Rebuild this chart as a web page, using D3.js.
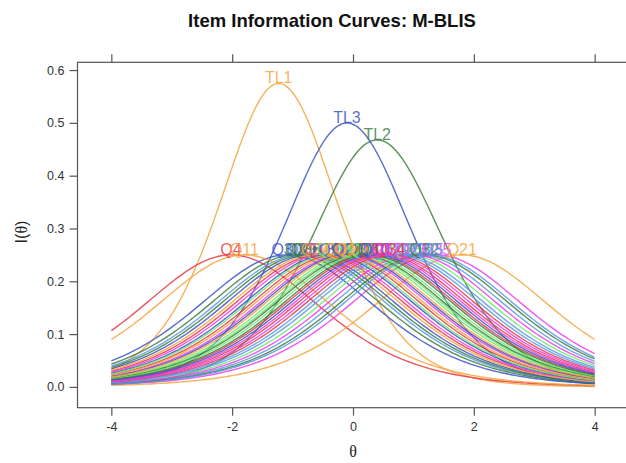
<!DOCTYPE html>
<html>
<head>
<meta charset="utf-8">
<script src="https://d3js.org/d3.v7.min.js"></script>
<style>
  body { margin: 0; background: #fff; }
  svg { font-family: "Liberation Sans", Arial, sans-serif; }
</style>
</head>
<body>
<svg></svg>
<script>
// item parameters (2PL: discrimination a, difficulty b)
const items = ['TL1', 'TL2', 'TL3', 'Q4', 'Q35', 'Q29', 'Q13', 'Q21', 'Q3', 'Q30',
    'Q18', 'Q27', 'Q28', 'Q16', 'Q11', 'Q36', 'Q8', 'Q2', 'Q7', 'Q5',
    'Q19', 'Q24', 'Q37', 'Q9', 'Q31', 'Q23', 'Q15', 'Q12', 'Q33', 'Q32',
    'Q22', 'Q1', 'Q26', 'Q20', 'Q25', 'Q14', 'Q6', 'Q10', 'Q34', 'Q17'];
const discrimination = [1.516, 1.368, 1.414, 1, 1, 1, 1, 1, 1, 1,
    1, 1, 1, 1, 1, 1, 1, 1, 1, 1,
    1, 1, 1, 1, 1, 1, 1, 1, 1, 1,
    1, 1, 1, 1, 1, 1, 1, 1, 1, 1];
const difficulty = [-1.23, 0.40, -0.10, -2.02, 1.38, 0.02, -0.85, 1.80, -0.95, -1.10,
    -0.55, -0.48, 0.88, 1.08, -1.80, -0.78, -0.70, -0.28, -0.15, 0.08,
    0.70, -0.62, 0.12, -0.40, 0.30, 0.98, -0.35, 0.78, -0.22, 1.18,
    -0.10, 0.48, 0.42, 0.18, 1.25, -0.05, 0.25, 0.36, 0.62, 0.55];
const xTicks = [-4, -2, 0, 2, 4];
const yTicks = [0, 0.1, 0.2, 0.3, 0.4, 0.5, 0.6];

const palette = ['#f5a540', '#3d7f3d', '#3a55c8', '#e63a45', '#ec3ee6', '#6fe86f', '#5a96e8'];

const width = 626, height = 463;
const svg = d3.select('svg').attr('width', width).attr('height', height);

const thetaGrid = d3.range(-4, 4.0001, 0.04);
function info(a, b, t) {
    const p = 1 / (1 + Math.exp(-a * (t - b)));
    return a * a * p * (1 - p);
}
const curves = items.map((name, i) => ({
    name: name,
    a: discrimination[i],
    b: difficulty[i],
    color: palette[i % palette.length],
    pts: thetaGrid.map(t => [t, info(discrimination[i], difficulty[i], t)])
}));

// lattice style padding of 7%
const allY = curves.flatMap(c => c.pts.map(p => p[1]));
const yMin = d3.min(allY), yMax = d3.max(allY);
const pad = 0.07 * (yMax - yMin);
const x = d3.scaleLinear().domain([-4.56, 4.56]).range([77.5, 628.5]);
const y = d3.scaleLinear().domain([yMin - pad, yMax + pad]).range([407.7, 62.3]);

const plot = svg.append('g');
plot.append('clipPath').attr('id', 'clip')
    .append('rect').attr('x', 77.5).attr('y', 62.3).attr('width', 551).attr('height', 345.4);

const line = d3.line().x(d => x(d[0])).y(d => y(d[1]));
plot.append('g')
    .attr('clip-path', 'url(#clip)')
    .selectAll('path')
    .data(curves)
    .enter()
    .append('path')
    .attr('d', c => line(c.pts))
    .attr('fill', 'none')
    .attr('stroke', c => c.color)
    .attr('stroke-width', 1.4)
    .attr('stroke-opacity', 0.85);

plot.append('g')
    .selectAll('text')
    .data(curves)
    .enter()
    .append('text')
    .attr('x', c => x(c.b))
    .attr('y', c => y(c.a * c.a / 4))
    .attr('text-anchor', 'middle')
    .attr('font-size', '16px')
    .attr('fill', c => c.color)
    .attr('fill-opacity', 0.85)
    .text(c => c.name);

// frame and ticks on all four sides
const axisCol = '#555';
plot.append('rect')
    .attr('x', 77.5).attr('y', 62.3).attr('width', 551).attr('height', 345.4)
    .attr('fill', 'none').attr('stroke', axisCol).attr('stroke-width', 1.2);

const axBottom = svg.append('g').attr('transform', 'translate(0,407.7)')
    .call(d3.axisBottom(x).tickValues(xTicks).tickSize(8).tickPadding(6).tickFormat(d => String(d)));
const axTop = svg.append('g').attr('transform', 'translate(0,62.3)')
    .call(d3.axisTop(x).tickValues(xTicks).tickSize(8).tickFormat(''));
const axLeft = svg.append('g').attr('transform', 'translate(77.5,0)')
    .call(d3.axisLeft(y).tickValues(yTicks).tickSize(8).tickPadding(5).tickFormat(d => d.toFixed(1)));
const axRight = svg.append('g').attr('transform', 'translate(628.5,0)')
    .call(d3.axisRight(y).tickValues(yTicks).tickSize(8).tickFormat(''));

[axBottom, axTop, axLeft, axRight].forEach(g => {
    g.select('.domain').remove();
    g.selectAll('line').attr('stroke', axisCol).attr('stroke-width', 1.2);
    g.selectAll('text').attr('fill', '#333').attr('font-size', '12.5px')
        .attr('font-family', '"Liberation Sans", Arial, sans-serif');
});

svg.append('text')
    .attr('x', 332).attr('y', 27)
    .attr('text-anchor', 'middle')
    .attr('font-size', '18.5px')
    .attr('font-weight', 'bold')
    .attr('fill', '#111')
    .text('Item Information Curves: M-BLIS');

const yLab = svg.append('text')
    .attr('transform', 'translate(27,232) rotate(-90)')
    .attr('text-anchor', 'middle')
    .attr('font-size', '16px')
    .attr('fill', '#222');
yLab.append('tspan').text('I(');
yLab.append('tspan').attr('font-family', '"Liberation Serif", serif').text('θ');
yLab.append('tspan').text(')');

svg.append('text')
    .attr('x', 353).attr('y', 457)
    .attr('text-anchor', 'middle')
    .attr('font-size', '16px')
    .attr('font-family', '"Liberation Serif", serif')
    .attr('fill', '#222')
    .text('θ');
</script>
</body>
</html>
